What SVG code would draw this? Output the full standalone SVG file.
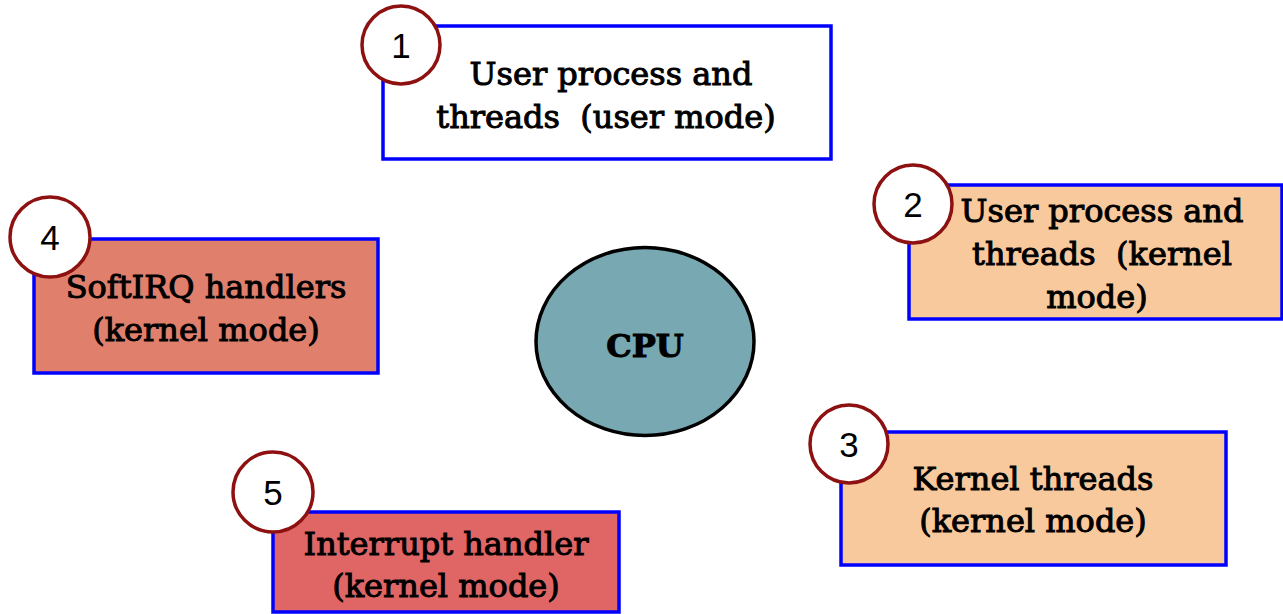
<svg xmlns="http://www.w3.org/2000/svg" width="1283" height="614" viewBox="0 0 1283 614">
  <style>
    .box { stroke: #0000ff; stroke-width: 3.5; }
    .badge { fill: #ffffff; stroke: #8e1111; stroke-width: 3.5; }
    .num { font-family: "Liberation Sans", Arial, sans-serif; font-size: 35px; fill: #000; text-anchor: middle; }
    .lbl { font-family: "DejaVu Serif", "Liberation Serif", serif; font-size: 32px; fill: #000; stroke: #000; stroke-width: 1; text-anchor: middle; }
  </style>
  <rect width="1283" height="614" fill="#ffffff"/>

  <g id="connectors"></g>

  <g id="cpu">
    <ellipse cx="645" cy="341.5" rx="109" ry="94" fill="#78a8b2" stroke="#000" stroke-width="3.5"/>
    <text class="lbl" x="645" y="357" font-weight="bold" font-size="33" stroke-width="0.3">CPU</text>
  </g>

  <g id="user-mode">
    <rect class="box" x="383" y="26" width="448" height="133" fill="#ffffff"/>
    <text class="lbl" x="611" y="85">User process and</text>
    <text class="lbl" x="606" y="128" xml:space="preserve">threads  (user mode)</text>
    <circle class="badge" cx="401" cy="45" r="39"/>
    <text class="num" x="401" y="58">1</text>
  </g>

  <g id="user-kernel-mode">
    <rect class="box" x="909" y="185" width="373" height="134" fill="#f8c99c"/>
    <text class="lbl" x="1102" y="222">User process and</text>
    <text class="lbl" x="1102" y="265" xml:space="preserve">threads  (kernel</text>
    <text class="lbl" x="1097" y="308">mode)</text>
    <circle class="badge" cx="913" cy="204" r="39"/>
    <text class="num" x="913" y="217">2</text>
  </g>

  <g id="kernel-threads">
    <rect class="box" x="841" y="432" width="385" height="133" fill="#f8c99c"/>
    <text class="lbl" x="1033" y="490">Kernel threads</text>
    <text class="lbl" x="1033" y="532">(kernel mode)</text>
    <circle class="badge" cx="849" cy="444" r="39"/>
    <text class="num" x="849" y="457">3</text>
  </g>

  <g id="softirq">
    <rect class="box" x="34" y="239" width="344" height="134" fill="#e07f6c"/>
    <text class="lbl" x="206" y="298">SoftIRQ handlers</text>
    <text class="lbl" x="206" y="341">(kernel mode)</text>
    <circle class="badge" cx="50" cy="237" r="40"/>
    <text class="num" x="50" y="250">4</text>
  </g>

  <g id="interrupt">
    <rect class="box" x="273" y="512" width="346" height="100" fill="#e06666"/>
    <text class="lbl" x="446" y="555">Interrupt handler</text>
    <text class="lbl" x="446" y="597">(kernel mode)</text>
    <circle class="badge" cx="273" cy="492" r="40"/>
    <text class="num" x="273" y="505">5</text>
  </g>
</svg>
